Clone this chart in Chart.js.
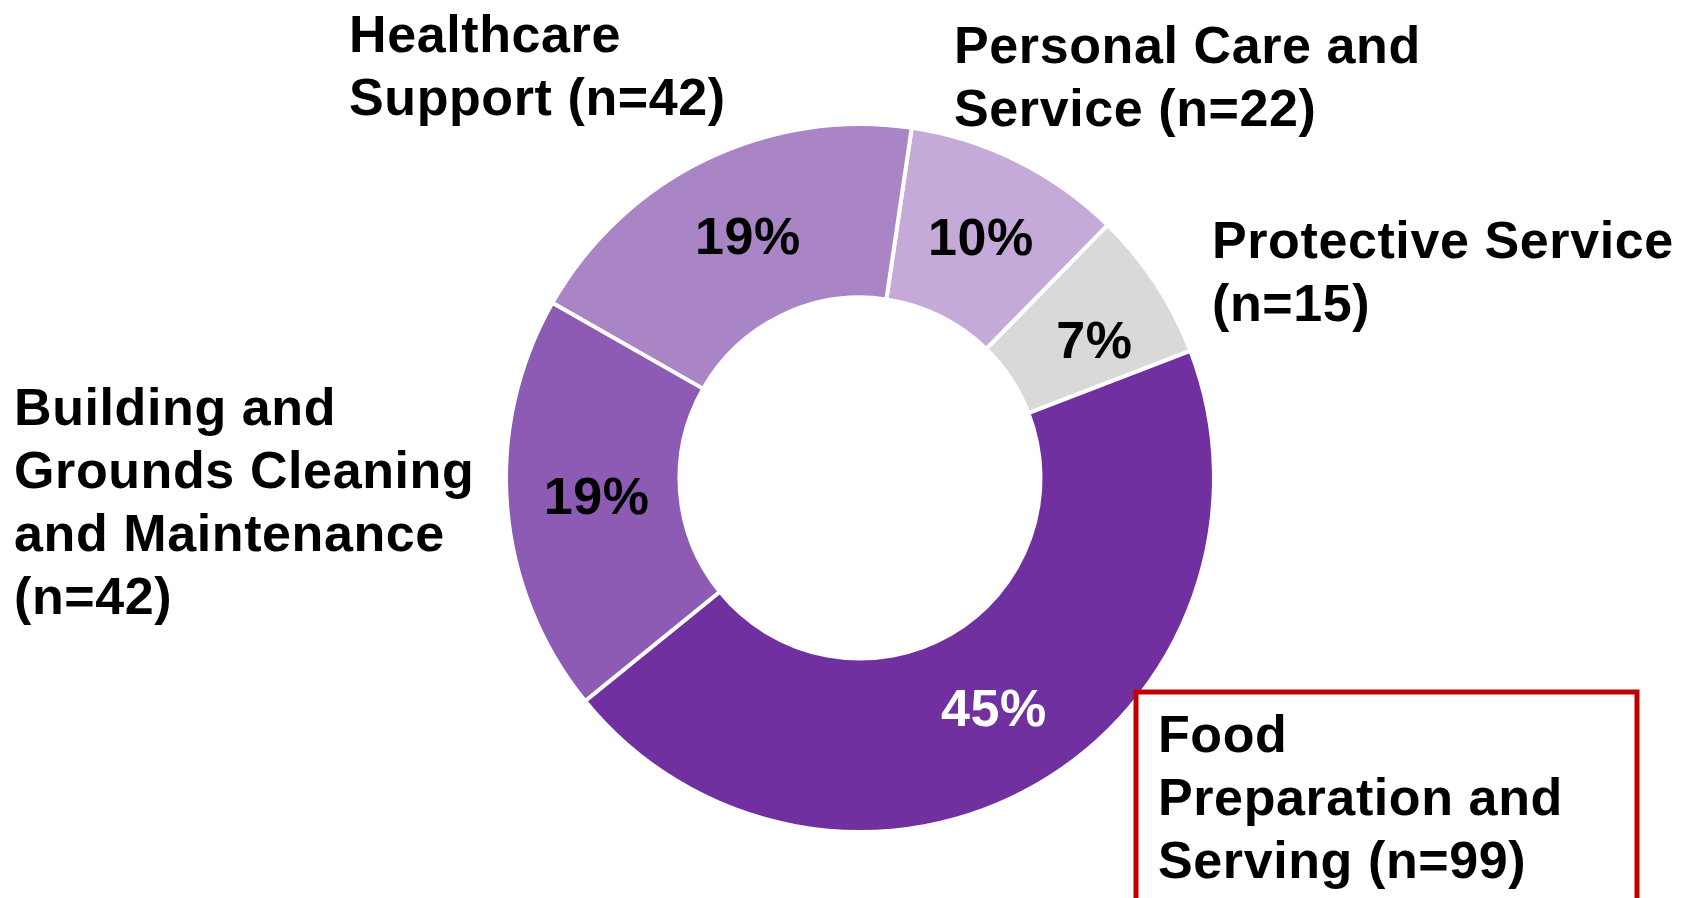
<!DOCTYPE html>
<html>
<head>
<meta charset="utf-8">
<script src="https://cdn.jsdelivr.net/npm/chart.js@4/dist/chart.umd.min.js"></script>
<style>
  html, body { margin: 0; padding: 0; background: #fff; }
  #wrap { width: 1688px; height: 898px; }
</style>
</head>
<body>
<div id="wrap"><canvas id="chart" width="1688" height="898"></canvas></div>
<script>
// data, clockwise from the top
const categories = ['Personal Care and Service', 'Protective Service', 'Food Preparation and Serving',
  'Building and Grounds Cleaning and Maintenance', 'Healthcare Support']
const counts = [22, 15, 99, 42, 42]
// how each category name is broken into lines; "(n=..)" is added to the last line
const nameLines = [
  ['Personal Care and', 'Service'],
  ['Protective Service', ''],
  ['Food', 'Preparation and', 'Serving'],
  ['Building and', 'Grounds Cleaning', 'and Maintenance', ''],
  ['Healthcare', 'Support'],
]

const colors = ['#C5AAD9', '#D9D9D9', '#7030A0', '#8D5BB3', '#A985C6']
const pctColors = ['#000', '#000', '#fff', '#000', '#000']
// small nudges for the percentage text, from the slice centre
const pctNudge = [[2, 2], [11, 12], [0, 2], [3, 0], [5, 2]]

// where the outside labels sit (left x, first baseline y), and which one gets a red box
const labelPos = [
  { x: 954, y: 63 },
  { x: 1212, y: 258 },
  { x: 1158, y: 752, box: { x: 1136, y: 692, w: 501, h: 220 } },
  { x: 14, y: 425 },
  { x: 349, y: 52 },
]

const FONT = 'bold 52px "Liberation Sans", Arial, sans-serif'
const LINE_H = 63

const total = counts.reduce((a, b) => a + b, 0)

const labelsPlugin = {
  id: 'sliceLabels',
  afterDatasetsDraw(chart) {
    const ctx = chart.ctx
    const meta = chart.getDatasetMeta(0)
    ctx.save()
    ctx.font = FONT
    ctx.letterSpacing = '0.6px'

    // percentages in the slices
    ctx.textAlign = 'center'
    ctx.textBaseline = 'middle'
    meta.data.forEach((arc, i) => {
      const p = arc.getCenterPoint()
      ctx.fillStyle = pctColors[i]
      ctx.fillText(Math.round((counts[i] / total) * 100) + '%', p.x + pctNudge[i][0], p.y + pctNudge[i][1])
    })

    // category names outside
    ctx.textAlign = 'left'
    ctx.textBaseline = 'alphabetic'
    nameLines.forEach((lines, i) => {
      const pos = labelPos[i]
      const n = '(n=' + counts[i] + ')'
      const out = lines.slice()
      const last = out.length - 1
      out[last] = out[last] ? out[last] + ' ' + n : n
      if (pos.box) {
        ctx.strokeStyle = '#C00000'
        ctx.lineWidth = 5
        ctx.strokeRect(pos.box.x, pos.box.y, pos.box.w, pos.box.h)
      }
      ctx.fillStyle = '#000'
      out.forEach((t, j) => ctx.fillText(t, pos.x, pos.y + j * LINE_H))
    })
    ctx.restore()
  },
}

new Chart(document.getElementById('chart'), {
  type: 'doughnut',
  data: {
    labels: categories,
    datasets: [
      {
        data: counts,
        backgroundColor: colors,
        borderColor: '#fff',
        borderWidth: 4,
      },
    ],
  },
  options: {
    responsive: false,
    animation: false,
    cutout: '51%',
    rotation: 8.4,
    layout: { padding: { top: 122, bottom: 64, left: 32, right: 0 } },
    plugins: {
      legend: { display: false },
      tooltip: { enabled: false },
    },
  },
  plugins: [labelsPlugin],
})
</script>
</body>
</html>
